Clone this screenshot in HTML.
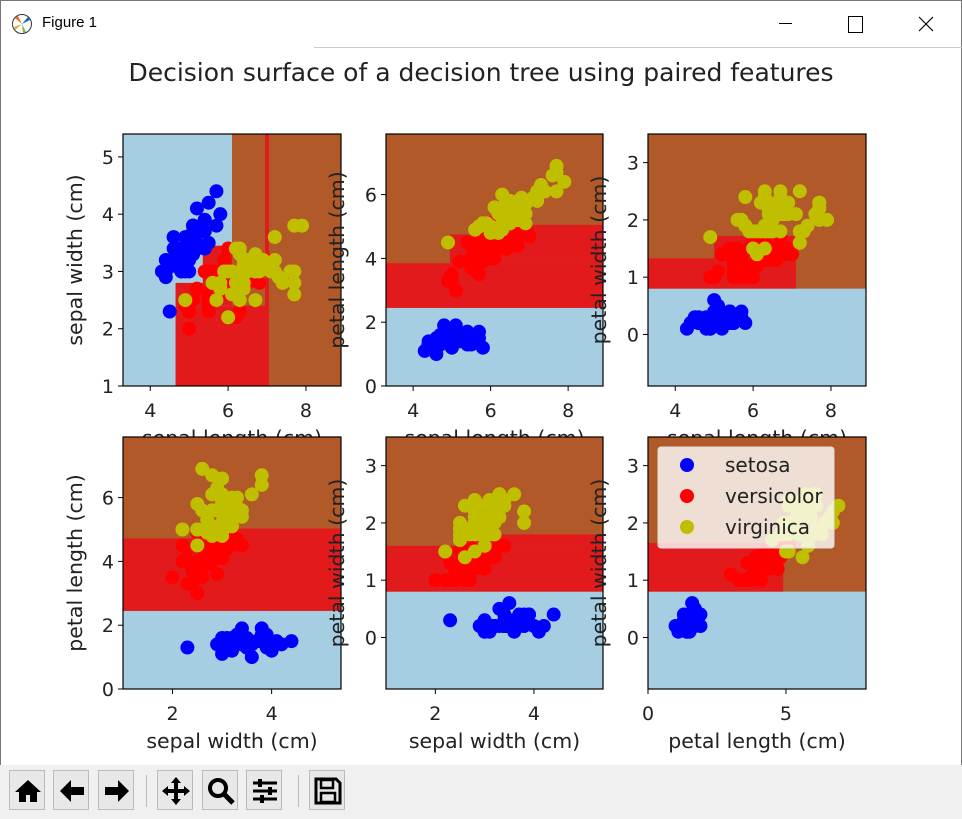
<!DOCTYPE html>
<html><head><meta charset="utf-8"><style>
html,body{margin:0;padding:0;width:962px;height:819px;overflow:hidden;background:#fff;font-family:"Liberation Sans",sans-serif}
#win{position:absolute;left:0;top:0;width:960px;height:817px;border:1px solid #777;background:#fff}
#titlebar{position:absolute;left:0;top:0;width:960px;height:45px}
#tb{position:absolute;left:0;top:765px;width:962px;height:54px;background:#f0f0f0}
.btn{position:absolute;top:5px;width:36px;height:40px;background:#e8e8e8;border:1px solid #bbb;box-sizing:border-box}
.btn svg{position:absolute;left:3px;top:5px}
.sep{position:absolute;top:10px;width:1px;height:32px;background:#bbb}
#fig text{font-family:"DejaVu Sans",sans-serif}
</style></head><body>
<div id="win">
<div id="titlebar">
 <svg width="22" height="22" style="position:absolute;left:10px;top:12px"><circle cx="11" cy="11" r="9.5" fill="#fff" stroke="#333"/><path d="M11 11 L4 5 L7 3Z" fill="#e8702a"/><path d="M11 11 L3 14 L4 17Z" fill="#e8a92a"/><path d="M11 11 L15 19 L12 20Z" fill="#7cb342"/><path d="M11 11 L17 4 L19 7Z" fill="#1565c0"/></svg>
 <span style="position:absolute;left:41px;top:13px;font-size:15px">Figure 1</span>
 <span style="position:absolute;left:778px;top:22px;width:13px;height:1px;background:#000"></span>
 <span style="position:absolute;left:847px;top:15px;width:13px;height:15px;border:1px solid #000"></span>
 <svg width="16" height="16" style="position:absolute;left:917px;top:15px"><path d="M1 1L15 15M15 1L1 15" stroke="#000" stroke-width="1.2"/></svg>
 <div style="position:absolute;left:313px;top:46px;width:648px;height:1px;background:#ccc"></div>
</div>
<svg id="fig" width="962" height="765" style="position:absolute;left:0;top:0"></svg>
</div>
<div id="tb">
 <div class="btn" style="left:9px"><svg width="30" height="30"><path d="M15 4L2 16h4v10h7v-7h4v7h7V16h4Z" fill="#000"/></svg></div>
 <div class="btn" style="left:53px"><svg width="30" height="30"><path d="M3 15L14 4v7h13v8H14v7Z" fill="#000"/></svg></div>
 <div class="btn" style="left:98px"><svg width="30" height="30"><path d="M27 15L16 4v7H3v8h13v7Z" fill="#000"/></svg></div>
 <div class="sep" style="left:146px"></div>
 <div class="btn" style="left:157px"><svg width="30" height="30"><path d="M15 1L10 7h3v6H7v-3L1 15l6 5v-3h6v6h-3l5 6 5-6h-3v-6h6v3l6-5-6-5v3h-6V7h3Z" fill="#000"/></svg></div>
 <div class="btn" style="left:202px"><svg width="30" height="30"><circle cx="12" cy="12" r="8" fill="none" stroke="#000" stroke-width="4"/><path d="M18 18L27 27" stroke="#000" stroke-width="5"/></svg></div>
 <div class="btn" style="left:246px"><svg width="30" height="30"><path d="M3 7h24M3 15h24M3 23h24" stroke="#000" stroke-width="3"/><rect x="8" y="3" width="4" height="8" fill="#000"/><rect x="18" y="11" width="4" height="8" fill="#000"/><rect x="10" y="19" width="4" height="8" fill="#000"/></svg></div>
 <div class="sep" style="left:298px"></div>
 <div class="btn" style="left:309px"><svg width="30" height="30"><path d="M3 3h20l4 4v20H3Z" fill="none" stroke="#000" stroke-width="3"/><rect x="8" y="4" width="12" height="8" fill="none" stroke="#000" stroke-width="2.5"/><rect x="8" y="17" width="14" height="9" fill="none" stroke="#000" stroke-width="2.5"/></svg></div>
</div>
<script>
const setosa=[[5.1,3.5,1.4,0.2],[4.9,3.0,1.4,0.2],[4.7,3.2,1.3,0.2],[4.6,3.1,1.5,0.2],[5.0,3.6,1.4,0.2],[5.4,3.9,1.7,0.4],[4.6,3.4,1.4,0.3],[5.0,3.4,1.5,0.2],[4.4,2.9,1.4,0.2],[4.9,3.1,1.5,0.1],[5.4,3.7,1.5,0.2],[4.8,3.4,1.6,0.2],[4.8,3.0,1.4,0.1],[4.3,3.0,1.1,0.1],[5.8,4.0,1.2,0.2],[5.7,4.4,1.5,0.4],[5.4,3.9,1.3,0.4],[5.1,3.5,1.4,0.3],[5.7,3.8,1.7,0.3],[5.1,3.8,1.5,0.3],[5.4,3.4,1.7,0.2],[5.1,3.7,1.5,0.4],[4.6,3.6,1.0,0.2],[5.1,3.3,1.7,0.5],[4.8,3.4,1.9,0.2],[5.0,3.0,1.6,0.2],[5.0,3.4,1.6,0.4],[5.2,3.5,1.5,0.2],[5.2,3.4,1.4,0.2],[4.7,3.2,1.6,0.2],[4.8,3.1,1.6,0.2],[5.4,3.4,1.5,0.4],[5.2,4.1,1.5,0.1],[5.5,4.2,1.4,0.2],[4.9,3.1,1.5,0.2],[5.0,3.2,1.2,0.2],[5.5,3.5,1.3,0.2],[4.9,3.6,1.4,0.1],[4.4,3.0,1.3,0.2],[5.1,3.4,1.5,0.2],[5.0,3.5,1.3,0.3],[4.5,2.3,1.3,0.3],[4.4,3.2,1.3,0.2],[5.0,3.5,1.6,0.6],[5.1,3.8,1.9,0.4],[4.8,3.0,1.4,0.3],[5.1,3.8,1.6,0.2],[4.6,3.2,1.4,0.2],[5.3,3.7,1.5,0.2],[5.0,3.3,1.4,0.2]];
const versicolor=[[7.0,3.2,4.7,1.4],[6.4,3.2,4.5,1.5],[6.9,3.1,4.9,1.5],[5.5,2.3,4.0,1.3],[6.5,2.8,4.6,1.5],[5.7,2.8,4.5,1.3],[6.3,3.3,4.7,1.6],[4.9,2.4,3.3,1.0],[6.6,2.9,4.6,1.3],[5.2,2.7,3.9,1.4],[5.0,2.0,3.5,1.0],[5.9,3.0,4.2,1.5],[6.0,2.2,4.0,1.0],[6.1,2.9,4.7,1.4],[5.6,2.9,3.6,1.3],[6.7,3.1,4.4,1.4],[5.6,3.0,4.5,1.5],[5.8,2.7,4.1,1.0],[6.2,2.2,4.5,1.5],[5.6,2.5,3.9,1.1],[5.9,3.2,4.8,1.8],[6.1,2.8,4.0,1.3],[6.3,2.5,4.9,1.5],[6.1,2.8,4.7,1.2],[6.4,2.9,4.3,1.3],[6.6,3.0,4.4,1.4],[6.8,2.8,4.8,1.4],[6.7,3.0,5.0,1.7],[6.0,2.9,4.5,1.5],[5.7,2.6,3.5,1.0],[5.5,2.4,3.8,1.1],[5.5,2.4,3.7,1.0],[5.8,2.7,3.9,1.2],[6.0,2.7,5.1,1.6],[5.4,3.0,4.5,1.5],[6.0,3.4,4.5,1.6],[6.7,3.1,4.7,1.5],[6.3,2.3,4.4,1.3],[5.6,3.0,4.1,1.3],[5.5,2.5,4.0,1.3],[5.5,2.6,4.4,1.2],[6.1,3.0,4.6,1.4],[5.8,2.6,4.0,1.2],[5.0,2.3,3.3,1.0],[5.6,2.7,4.2,1.3],[5.7,3.0,4.2,1.2],[5.7,2.9,4.2,1.3],[6.2,2.9,4.3,1.3],[5.1,2.5,3.0,1.1],[5.7,2.8,4.1,1.3]];
const virginica=[[6.3,3.3,6.0,2.5],[5.8,2.7,5.1,1.9],[7.1,3.0,5.9,2.1],[6.3,2.9,5.6,1.8],[6.5,3.0,5.8,2.2],[7.6,3.0,6.6,2.1],[4.9,2.5,4.5,1.7],[7.3,2.9,6.3,1.8],[6.7,2.5,5.8,1.8],[7.2,3.6,6.1,2.5],[6.5,3.2,5.1,2.0],[6.4,2.7,5.3,1.9],[6.8,3.0,5.5,2.1],[5.7,2.5,5.0,2.0],[5.8,2.8,5.1,2.4],[6.4,3.2,5.3,2.3],[6.5,3.0,5.5,1.8],[7.7,3.8,6.7,2.2],[7.7,2.6,6.9,2.3],[6.0,2.2,5.0,1.5],[6.9,3.2,5.7,2.3],[5.6,2.8,4.9,2.0],[7.7,2.8,6.7,2.0],[6.3,2.7,4.9,1.8],[6.7,3.3,5.7,2.1],[7.2,3.2,6.0,1.8],[6.2,2.8,4.8,1.8],[6.1,3.0,4.9,1.8],[6.4,2.8,5.6,2.1],[7.2,3.0,5.8,1.6],[7.4,2.8,6.1,1.9],[7.9,3.8,6.4,2.0],[6.4,2.8,5.6,2.2],[6.3,2.8,5.1,1.5],[6.1,2.6,5.6,1.4],[7.7,3.0,6.1,2.3],[6.3,3.4,5.6,2.4],[6.4,3.1,5.5,1.8],[6.0,3.0,4.8,1.8],[6.9,3.1,5.4,2.1],[6.7,3.1,5.6,2.4],[6.9,3.1,5.1,2.3],[5.8,2.7,5.1,1.9],[6.8,3.2,5.9,2.3],[6.7,3.3,5.7,2.5],[6.7,3.0,5.2,2.3],[6.3,2.5,5.0,1.9],[6.5,3.0,5.2,2.0],[6.2,3.4,5.4,2.3],[5.9,3.0,5.1,1.8]];
const classNames=["setosa","versicolor","virginica"];
const featureNames=["sepal length (cm)","sepal width (cm)","petal length (cm)","petal width (cm)"];
const pairs=[[0,1],[0,2],[0,3],[1,2],[1,3],[2,3]];
const xRanges=[[3.3,8.9],[3.3,8.9],[3.3,8.9],[1.0,5.4],[1.0,5.4],[0,7.9]];
const yRanges=[[1.0,5.4],[0,7.9],[-0.9,3.5],[0,7.9],[-0.9,3.5],[-0.9,3.5]];
const xTicks=[[4,6,8],[4,6,8],[4,6,8],[2,4],[2,4],[0,5]];
const yTicks=[[1,2,3,4,5],[0,2,4,6],[0,1,2,3],[0,2,4,6],[0,1,2,3],[0,1,2,3]];
const regions=[
 [[3.3,8.9,1,5.4,2],[3.3,6.1,1,5.4,0],[4.65,7.0,1,2.4,1],[4.65,6.1,2.4,2.8,1],[5.35,6.1,2.8,3.45,1],[6.95,7.05,1,5.4,1]],
 [[3.3,8.9,0,7.9,2],[3.3,8.9,0,2.45,0],[3.3,8.9,2.45,3.85,1],[4.95,8.9,3.85,4.75,1],[6.2,8.9,4.75,5.05,1]],
 [[3.3,8.9,-0.9,3.5,2],[3.3,8.9,-0.9,0.8,0],[3.3,7.1,0.8,1.33,1],[5.0,7.1,1.33,1.72,1]],
 [[1,5.4,0,7.9,2],[1,5.4,0,2.45,0],[1,5.4,2.45,4.72,1],[2.4,5.4,4.72,5.03,1]],
 [[1,5.4,-0.9,3.5,2],[1,5.4,-0.9,0.8,0],[1,5.4,0.8,1.6,1],[2.4,5.4,1.6,1.8,1]],
 [[0,7.9,-0.9,3.5,2],[0,7.9,-0.9,0.8,0],[0,4.9,0.8,1.65,1]]
];
const boxes=[[122,133,340,385],[385,133,602,385],[647,133,865,385],[122,436,340,688],[385,436,602,688],[647,436,865,688]];
const regColors=["#a6cee3","#e31a1c","#b15928"];
const ptColors=["#0000ff","#ff0000","#bfbf00"];
const NS="http://www.w3.org/2000/svg";
const svg=document.getElementById('fig');
function mk(tag,attrs,parent){const e=document.createElementNS(NS,tag);for(const k in attrs)e.setAttribute(k,attrs[k]);(parent||svg).appendChild(e);return e;}
const title=mk('text',{x:480,y:80,'text-anchor':'middle','font-size':'25','fill':'#222'});


title.textContent="Decision surface of a decision tree using paired features";
const groups=[setosa,versicolor,virginica];
pairs.forEach((p,i)=>{
 const [L,T,R,B]=boxes[i];const xr=xRanges[i],yr=yRanges[i];
 const sx=v=>L+(v-xr[0])/(xr[1]-xr[0])*(R-L);
 const sy=v=>B-(v-yr[0])/(yr[1]-yr[0])*(B-T);
 const g=mk('g',{});
 
 
 regions[i].forEach(r=>{
  const re=mk('rect',{x:sx(r[0]),y:sy(r[3]),width:sx(r[1])-sx(r[0]),height:sy(r[2])-sy(r[3]),fill:regColors[r[4]]},g);
  
  
 });
 groups.forEach((grp,c)=>{grp.forEach(d=>{
  const pt=mk('circle',{cx:sx(d[p[0]]),cy:sy(d[p[1]]),r:7,fill:ptColors[c]},g);
  
  
 });});
 const fr=mk('rect',{x:L,y:T,width:R-L,height:B-T,fill:'none',stroke:'#000','stroke-width':1.2},g);
 
 
 xTicks[i].forEach(t=>{const x=sx(t);mk('line',{x1:x,x2:x,y1:B,y2:B+5,stroke:'#000'},g);
  const tx=mk('text',{x:x,y:B+31,'text-anchor':'middle','font-size':'19','fill':'#222'},g);
  
  
  tx.textContent=t;});
 yTicks[i].forEach(t=>{const y=sy(t);mk('line',{x1:L-5,x2:L,y1:y,y2:y,stroke:'#000'},g);
  const tx=mk('text',{x:L-9,y:y+7,'text-anchor':'end','font-size':'19','fill':'#222'},g);
  
  
  tx.textContent=t;});
 const xl=mk('text',{x:(L+R)/2,y:B+59,'text-anchor':'middle','font-size':'20.5','fill':'#222'},g);
 
 
 xl.textContent=featureNames[p[0]];
 const yx=L-(i%3==0?41:42),yy=(T+B)/2;
 const yl=mk('text',{x:yx,y:yy,'text-anchor':'middle','font-size':'20.5','fill':'#222',transform:`rotate(-90 ${yx} ${yy})`},g);
 
 
 yl.textContent=featureNames[p[1]];
});
const lg=mk('g',{});


mk('rect',{x:657,y:446,width:176,height:101,rx:3,fill:'#fff','fill-opacity':0.8,stroke:'#ddd'},lg);
classNames.forEach((n,c)=>{const y=464+c*31;
 mk('circle',{cx:686,cy:y,r:7,fill:ptColors[c]},lg);
 const t=mk('text',{x:724,y:y+7,'font-size':'20','fill':'#222'},lg);
 
 
 t.textContent=n;});
</script>
</body></html>
